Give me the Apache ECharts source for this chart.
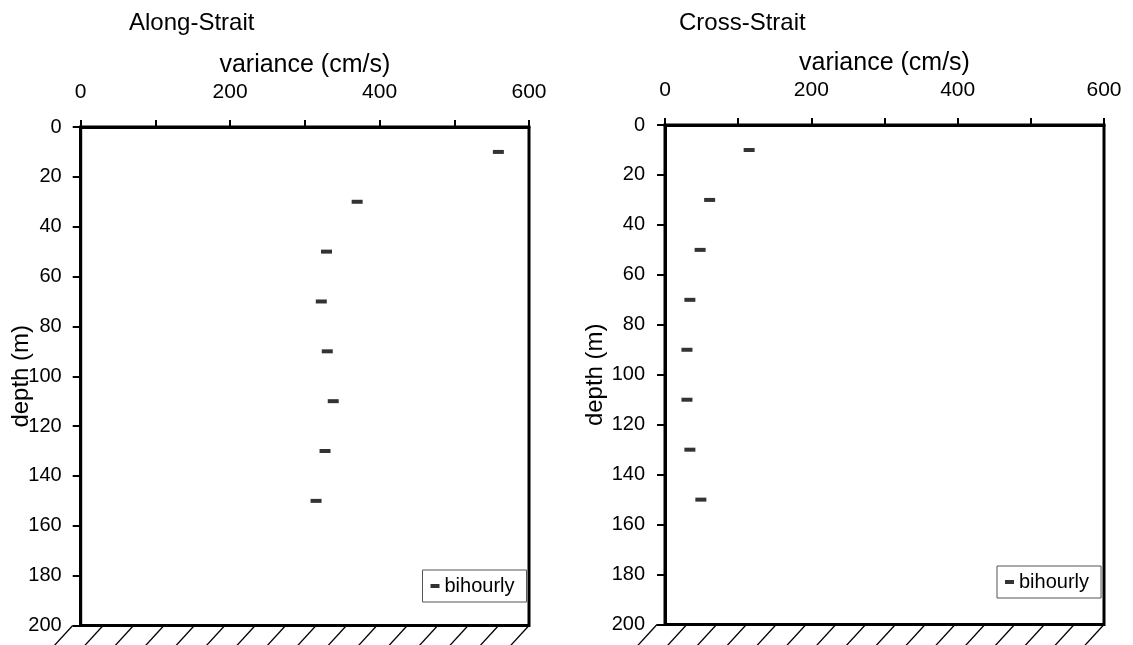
<!DOCTYPE html>
<html><head><meta charset="utf-8">
<script src="https://cdn.jsdelivr.net/npm/echarts@6/dist/echarts.min.js"></script>
<style>html,body{margin:0;padding:0;background:#fff}#c{width:1133px;height:645px}</style>
</head><body><div id="c"></div>
<script>
const depths = [10, 30, 50, 70, 90, 110, 130, 150];
const alongVariance = [559, 370, 329, 322, 330, 338, 327, 315];
const crossVariance = [115, 61, 48, 34, 30, 30, 34, 49];
const panelTitles = ['Along-Strait', 'Cross-Strait'];
const xAxisName = 'variance (cm/s)';
const yAxisName = 'depth (m)';
const seriesName = 'bihourly';
const xMin = 0, xMax = 600, xStep = 100, xLabelStep = 200;
const yMin = 0, yMax = 200, yStep = 20;

const FONT = 'Liberation Sans, Arial, sans-serif';
const chart = echarts.init(document.getElementById('c'), null, {renderer: 'canvas'});

const grids = [
  {left: 80.7, top: 127, width: 448.3, height: 498.5},
  {left: 665, top: 125, width: 439, height: 499.5}
];

function xAxisFor(i) {
  return {
    type: 'value', gridIndex: i, position: 'top', min: xMin, max: xMax, interval: xStep,
    axisLine: {show: true, lineStyle: {color: '#000', width: 3}},
    axisTick: {show: true, inside: false, length: 7, lineStyle: {color: '#000', width: 2}},
    axisLabel: {show: true, margin: 24, color: '#000', fontSize: 21, fontFamily: FONT,
      formatter: v => (v % xLabelStep === 0 ? String(v) : '')},
    splitLine: {show: false},
    name: xAxisName, nameLocation: 'middle', nameGap: 49, nameMoveOverlap: false,
    nameTextStyle: {color: '#000', fontSize: 25, fontFamily: FONT}
  };
}
function yAxisFor(i, gap, margin) {
  return {
    type: 'value', gridIndex: i, inverse: true, min: yMin, max: yMax, interval: yStep,
    axisLine: {show: true, lineStyle: {color: '#000', width: 3}},
    axisTick: {show: true, inside: false, length: 8, lineStyle: {color: '#000', width: 2}},
    axisLabel: {show: true, margin: margin, color: '#000', fontSize: 20, fontFamily: FONT},
    splitLine: {show: false},
    name: yAxisName, nameLocation: 'middle', nameGap: gap, nameRotate: 90, nameMoveOverlap: false,
    nameTextStyle: {color: '#000', fontSize: 24, fontFamily: FONT}
  };
}
function seriesFor(i, vals) {
  return {
    name: seriesName, type: 'scatter', xAxisIndex: i, yAxisIndex: i,
    symbol: 'rect', symbolSize: [11, 4],
    itemStyle: {color: '#000'},
    data: depths.map((d, k) => [vals[k], d])
  };
}
function legendFor(left, top) {
  return {
    left: left, top: top, orient: 'vertical',
    data: [{name: seriesName, icon: 'rect'}],
    itemWidth: 9, itemHeight: 4, itemGap: 0,
    padding: [6, 12, 6, 8],
    borderColor: '#555', borderWidth: 1, backgroundColor: '#fff',
    textStyle: {color: '#000', fontSize: 20, fontFamily: FONT, padding: [0, 0, 0, 0]},
    selectedMode: false
  };
}

chart.setOption({
  animation: false,
  backgroundColor: '#fff',
  title: [
    {text: panelTitles[0], left: 124, top: 6, textStyle: {color: '#000', fontSize: 24, fontWeight: 'normal', fontFamily: FONT}},
    {text: panelTitles[1], left: 674, top: 6, textStyle: {color: '#000', fontSize: 24, fontWeight: 'normal', fontFamily: FONT}}
  ],
  grid: grids.map(g => Object.assign({show: true, borderColor: '#000', borderWidth: 3, backgroundColor: 'transparent'}, g)),
  xAxis: [xAxisFor(0), xAxisFor(1)],
  yAxis: [yAxisFor(0, 47, 19), yAxisFor(1, 58, 20)],
  legend: [legendFor(422.5, 570), legendFor(997, 566)],
  series: [seriesFor(0, alongVariance), seriesFor(1, crossVariance)]
});

// hatching below the bottom axis (decoration), positioned from the axes
const hatch = [];
[0, 1].forEach(gi => {
  const bl = chart.convertToPixel({gridIndex: gi}, [xMin, yMax]);
  const br = chart.convertToPixel({gridIndex: gi}, [xMax, yMax]);
  const n = 16;
  const x0 = bl[0] - 8, x1 = br[0];
  const step = (x1 - x0) / (n - 1);
  for (let k = 0; k < n; k++) {
    const x = x0 + k * step;
    hatch.push({type: 'line', silent: true,
      shape: {x1: x, y1: bl[1], x2: x - 22, y2: bl[1] + 24},
      style: {stroke: '#000', lineWidth: 1.3}});
  }
});
chart.setOption({graphic: hatch});
</script>
</body></html>
